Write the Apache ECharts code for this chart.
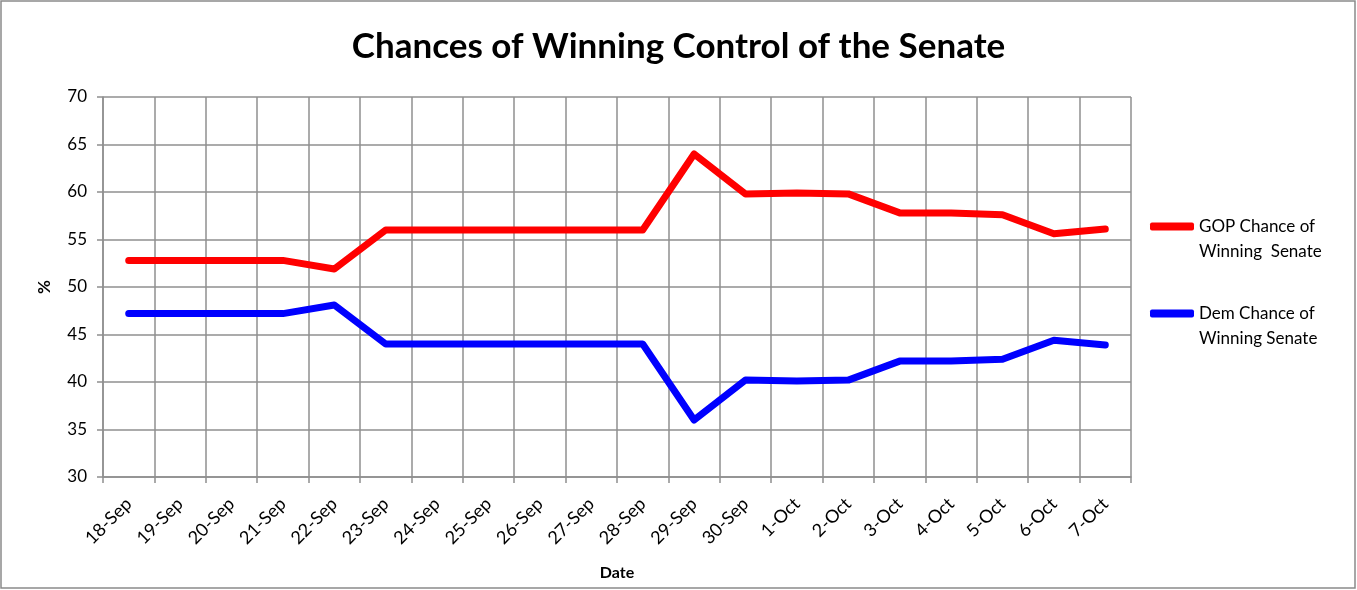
<!DOCTYPE html>
<html>
<head>
	<meta charset="utf-8">
	<title>Chances of Winning Control of the Senate</title>
	<script src="https://cdn.jsdelivr.net/npm/echarts@6/dist/echarts.min.js"></script>
	<style>
		html, body { margin: 0; padding: 0; background: #fff; }
		#chart { width: 1357px; height: 590px; }
	</style>
</head>
<body>
<div id="chart"></div>
<script>
	// data
	var dates = ['18-Sep', '19-Sep', '20-Sep', '21-Sep', '22-Sep', '23-Sep', '24-Sep', '25-Sep', '26-Sep', '27-Sep',
		'28-Sep', '29-Sep', '30-Sep', '1-Oct', '2-Oct', '3-Oct', '4-Oct', '5-Oct', '6-Oct', '7-Oct'];
	var gop = [52.8, 52.8, 52.8, 52.8, 51.9, 56.0, 56.0, 56.0, 56.0, 56.0,
		56.0, 64.0, 59.8, 59.9, 59.8, 57.8, 57.8, 57.6, 55.6, 56.1];
	var dem = [47.2, 47.2, 47.2, 47.2, 48.1, 44.0, 44.0, 44.0, 44.0, 44.0,
		44.0, 36.0, 40.2, 40.1, 40.2, 42.2, 42.2, 42.4, 44.4, 43.9];
	var yTicks = { min: 30, max: 70, step: 5 };

	var font = 'Lato, "Open Sans", sans-serif';
	var gridColor = '#8f8f8f';

	var myChart = echarts.init(document.getElementById('chart'));
	var option = {
		backgroundColor: '#fff',
		animation: false,
		title: {
			text: 'Chances of Winning Control of the Senate',
			left: 'center',
			top: 24,
			textStyle: { fontFamily: font, fontSize: 35, fontWeight: 'bold', color: '#000' }
		},
		graphic: [{
			type: 'rect',
			shape: { x: 1, y: 1, width: 1354, height: 587 },
			style: { fill: 'none', stroke: '#8a8a8a', lineWidth: 1.5 },
			silent: true
		}],
		legend: {
			orient: 'vertical',
			left: 1150,
			top: 189,
			padding: 0,
			itemGap: 12,
			itemWidth: 44,
			itemHeight: 8,
			icon: 'roundRect',
			formatter: function (name) {
				// blank first line so the icon sits beside the first text line
				return '\n' + name;
			},
			textStyle: { fontFamily: font, fontSize: 17, color: '#000', lineHeight: 25 },
			data: ['GOP Chance of\nWinning  Senate', 'Dem Chance of\nWinning Senate']
		},
		grid: { left: 103, right: 226, top: 97, bottom: 113 },
		xAxis: {
			type: 'category',
			data: dates,
			name: 'Date',
			nameLocation: 'middle',
			nameGap: 88,
			nameTextStyle: { fontFamily: font, fontSize: 16, fontWeight: 'bold', color: '#000' },
			axisLine: { lineStyle: { color: gridColor, width: 1.5 } },
			axisTick: { show: true, length: 6, lineStyle: { color: gridColor, width: 1.5 } },
			axisLabel: { rotate: 45, fontFamily: font, fontSize: 18, color: '#000', margin: 24 },
			splitLine: { show: true, lineStyle: { color: gridColor, width: 1.5 } }
		},
		yAxis: {
			type: 'value',
			min: yTicks.min,
			max: yTicks.max,
			interval: yTicks.step,
			name: '%',
			nameLocation: 'middle',
			nameGap: 50,
			nameTextStyle: { fontFamily: font, fontSize: 17, fontWeight: 'bold', color: '#000' },
			axisLine: { show: true, lineStyle: { color: gridColor, width: 1.5 } },
			axisTick: { show: true, length: 6, lineStyle: { color: gridColor, width: 1.5 } },
			axisLabel: { fontFamily: font, fontSize: 17, color: '#000', margin: 16 },
			splitLine: { show: true, lineStyle: { color: gridColor, width: 1.5 } }
		},
		series: [
			{
				name: 'GOP Chance of\nWinning  Senate',
				type: 'line',
				data: gop,
				showSymbol: false,
				symbol: 'none',
				color: '#ff0000',
				lineStyle: { width: 7, color: '#ff0000', cap: 'round', join: 'round' }
			},
			{
				name: 'Dem Chance of\nWinning Senate',
				type: 'line',
				data: dem,
				showSymbol: false,
				symbol: 'none',
				color: '#0000ff',
				lineStyle: { width: 7, color: '#0000ff', cap: 'round', join: 'round' }
			}
		]
	};
	myChart.setOption(option);
</script>
</body>
</html>
